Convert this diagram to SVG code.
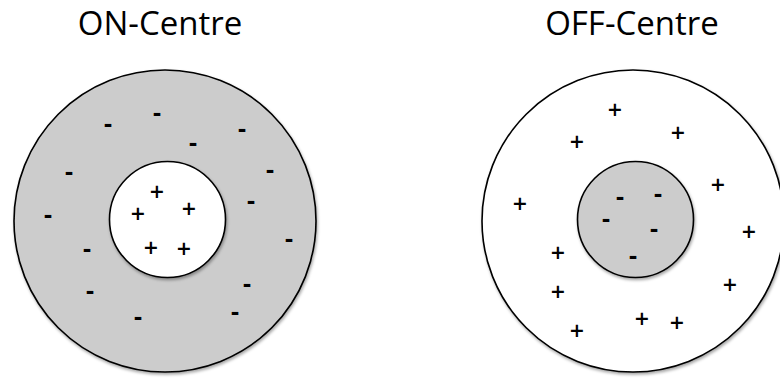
<svg xmlns="http://www.w3.org/2000/svg" width="780" height="379" viewBox="0 0 780 379">
  <defs>
    <filter id="shadow" x="-10%" y="-10%" width="125%" height="125%">
      <feDropShadow dx="1" dy="2" stdDeviation="1.5" flood-color="#000" flood-opacity="0.35"/>
    </filter>
    <style>
      .title { font-family: "Open Sans", "Liberation Sans", sans-serif; font-size: 33px; fill: #000; text-anchor: middle; }
      .ring { stroke: #000; stroke-width: 1.6; filter: url(#shadow); }
      .grey { fill: #cccccc; }
      .white { fill: #ffffff; }
      .plus { font-family: "Open Sans", "Liberation Sans", sans-serif; font-size: 25px; font-weight: 600; fill: #000; text-anchor: middle; }
      .minus { font-family: "Open Sans", "Liberation Sans", sans-serif; font-size: 25px; font-weight: 700; fill: #000; text-anchor: middle; }
    </style>
  </defs>

  <g id="on-centre">
    <text class="title" x="160" y="35">ON-Centre</text>
    <g id="on-surround">
      <circle class="ring grey" cx="165" cy="221" r="151"/>
      <text class="minus" x="157" y="121">-</text>
      <text class="minus" x="108" y="132">-</text>
      <text class="minus" x="242" y="137">-</text>
      <text class="minus" x="193" y="151">-</text>
      <text class="minus" x="69" y="180">-</text>
      <text class="minus" x="270" y="178">-</text>
      <text class="minus" x="48" y="223">-</text>
      <text class="minus" x="251" y="209">-</text>
      <text class="minus" x="289" y="247">-</text>
      <text class="minus" x="87" y="257">-</text>
      <text class="minus" x="90" y="299">-</text>
      <text class="minus" x="247" y="292">-</text>
      <text class="minus" x="235" y="320">-</text>
      <text class="minus" x="138" y="325">-</text>
    </g>
    <g id="on-center">
      <circle class="ring white" cx="167.5" cy="219.5" r="58"/>
      <text class="plus" x="157" y="201">+</text>
      <text class="plus" x="138" y="223">+</text>
      <text class="plus" x="189" y="218">+</text>
      <text class="plus" x="151" y="257">+</text>
      <text class="plus" x="184" y="258">+</text>
    </g>
  </g>

  <g id="off-centre">
    <text class="title" x="632" y="35">OFF-Centre</text>
    <g id="off-surround">
      <circle class="ring white" cx="633" cy="221" r="151"/>
      <text class="plus" x="615" y="119">+</text>
      <text class="plus" x="577" y="151">+</text>
      <text class="plus" x="678" y="142">+</text>
      <text class="plus" x="520" y="213">+</text>
      <text class="plus" x="718" y="194">+</text>
      <text class="plus" x="749" y="241">+</text>
      <text class="plus" x="558" y="262">+</text>
      <text class="plus" x="558" y="301">+</text>
      <text class="plus" x="730" y="294">+</text>
      <text class="plus" x="577" y="340">+</text>
      <text class="plus" x="642" y="328">+</text>
      <text class="plus" x="677" y="332">+</text>
    </g>
    <g id="off-center">
      <circle class="ring grey" cx="635.5" cy="219.5" r="58"/>
      <text class="minus" x="620" y="205">-</text>
      <text class="minus" x="658" y="202">-</text>
      <text class="minus" x="606" y="227">-</text>
      <text class="minus" x="654" y="237">-</text>
      <text class="minus" x="633" y="264">-</text>
    </g>
  </g>

  <g id="connectors"></g>
</svg>
